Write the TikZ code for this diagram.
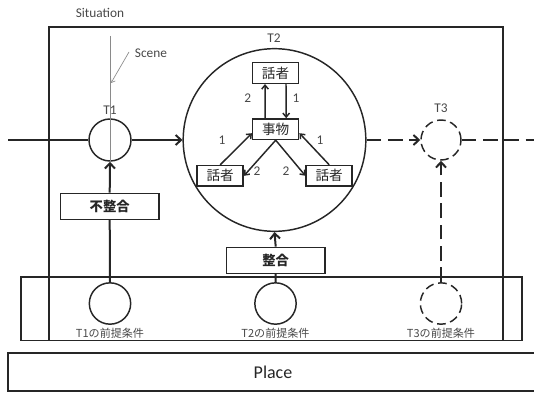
\documentclass[tikz,border=0pt]{standalone}
\usepackage{fontspec}
\setmainfont{Carlito}
\newfontfamily\jp{Noto Sans CJK JP}
\usetikzlibrary{arrows.meta,calc}
\definecolor{lc}{HTML}{262626}
\definecolor{tc}{HTML}{484848}
\definecolor{sc}{HTML}{8A8A8A}
\begin{document}
\begin{tikzpicture}[x=0.75pt,y=-0.75pt,
  frame/.style={draw=lc, line width=1.2pt},
  place/.style={circle, draw=lc, line width=1.1pt, inner sep=0pt},
  dplace/.style={place, dash pattern=on 6.5pt off 3.5pt},
  bigbox/.style={draw=lc, line width=1.1pt, minimum width=74pt, minimum height=19.5pt, inner sep=0pt, font=\jp\bfseries\fontsize{10}{12}\selectfont, text=lc},
  smallbox/.style={draw=lc, line width=1.1pt, minimum width=34.5pt, minimum height=15.4pt, inner sep=0pt, font=\jp\fontsize{10.2}{12}\selectfont, text=lc},
  lbl/.style={text=tc, font=\fontsize{10}{12}\selectfont, inner sep=0pt},
  jlbl/.style={text=tc, font=\jp\fontsize{8.3}{10}\selectfont, inner sep=0pt},
  num/.style={text=tc, font=\fontsize{10}{12}\selectfont, inner sep=0pt},
  flow/.style={draw=lc, line width=1.5pt},
  tip/.style={-{Straight Barb[length=4pt,width=7.5pt]}},
  stip/.style={draw=lc, line width=1.1pt, -{Straight Barb[length=3pt,width=5pt]}},
  dflow/.style={flow, dash pattern=on 11pt off 5pt}
]
\clip (0,0) rectangle (534,392);
% frames
\draw[frame] (49,27) rectangle (503,340.5);
\draw[frame] (21,277) rectangle (522,340.5);
\draw[frame] (8,353) rectangle (545,391);
\node[lbl] (situation) at (100,13) {Situation};
\node[text=lc, font=\fontsize{13.5}{15}\selectfont, inner sep=0pt] (placetxt) at (273,372) {Place};
% transitions
\node[place, minimum size=31.5pt, fill=white] (T1) at (110,140) {};
\node[place, minimum size=137pt] (T2) at (274.5,140) {};
\node[dplace, minimum size=30pt] (T3) at (441,140) {};
\node[lbl] (t1l) at (110,110) {T1};
\node[lbl] (t2l) at (274,38) {T2};
\node[lbl] (t3l) at (441,108) {T3};
% scene
\coordinate (scenetop) at (110,36);
\coordinate (scenetail) at (129,52);
\coordinate (scenehead) at (111,83);
\draw[sc, line width=0.5pt] (scenetop) -- (T1.south);
\draw[sc, line width=0.5pt, -{Straight Barb[length=2.5pt,width=4pt]}] (scenetail) -- (scenehead);
\node[lbl] (scene) at (151,53) {Scene};
% preconditions
\node[place, minimum size=31pt] (P1) at (110,303.5) {};
\node[place, minimum size=31pt] (P2) at (275.5,303.5) {};
\node[dplace, minimum size=31pt] (P3) at (441,303.5) {};
\node[jlbl] (p1l) at (110,333) {T1の前提条件};
\node[jlbl] (p2l) at (275.5,333) {T2の前提条件};
\node[jlbl] (p3l) at (441,333) {T3の前提条件};
% guards
\node[bigbox, fill=white] (ng) at (109.7,206.3) {不整合};
\node[bigbox] (ok) at (275.7,260.3) {整合};
% main flow
\coordinate (left) at (8,140);
\coordinate (right) at (540,140);
\draw[flow] (left) -- (T1.west);
\draw[flow, tip] (T1.east) -- (T2.west);
\draw[dflow, tip] (T2.east) -- (T3.west);
\draw[dflow] (T3.east) -- (right);
\draw[flow, tip] (ng.north) -- (T1.south);
\draw[flow] (ng.south) -- (P1.north);
\draw[flow, tip] (ok.north) -- (T2.south);
\draw[flow] (ok.south) -- (P2.north);
\draw[dflow, tip] (P3.north) -- (T3.south);
% inner structure
\node[smallbox] (s1) at (275.5,73) {話者};
\node[smallbox] (th) at (275.7,129.2) {事物};
\node[smallbox] (s2) at (220.2,175.8) {話者};
\node[smallbox] (s3) at (329.2,175.8) {話者};
\draw[stip] ($(th.north)+(-10.5,0)$) -- ($(s1.south)+(-10.5,0)$);
\draw[stip] ($(s1.south)+(10.5,0)$) -- ($(th.north)+(10.5,0)$);
\draw[stip] (s2.north) -- ($(th.west)+(0,4)$);
\draw[stip] (th.south) -- (s2.east);
\draw[stip] (th.south) -- (s3.west);
\draw[stip] (s3.north) -- ($(th.east)+(0,4)$);
\node[num] (n1) at (247.7,98) {2};
\node[num] (n2) at (296,98) {1};
\node[num] (n3) at (222,140) {1};
\node[num] (n4) at (257,171) {2};
\node[num] (n5) at (286,171) {2};
\node[num] (n6) at (320,140) {1};
\end{tikzpicture}
\end{document}
